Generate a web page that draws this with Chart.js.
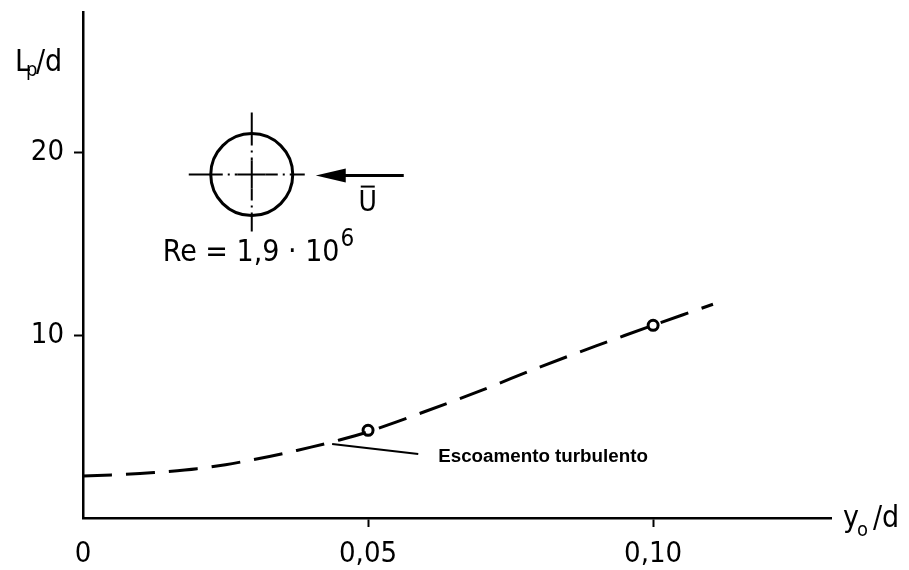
<!DOCTYPE html>
<html>
<head>
<meta charset="utf-8">
<script src="https://cdn.jsdelivr.net/npm/chart.js@4.4.1/dist/chart.umd.min.js"></script>
<style>
  html, body { margin: 0; padding: 0; background: #fff; }
  #wrap { width: 909px; height: 570px; position: relative; }
</style>
</head>
<body>
<div id="wrap"><canvas id="c" width="909" height="570"></canvas></div>
<script>
// curva tracejada
const curveX = [0, 0.005, 0.01, 0.015, 0.02, 0.025, 0.03, 0.035, 0.04, 0.045, 0.05, 0.06, 0.07, 0.08, 0.09, 0.10, 0.1105];
const curveY = [2.3, 2.36, 2.44, 2.55, 2.7, 2.92, 3.2, 3.52, 3.88, 4.27, 4.72, 5.83, 7.0, 8.25, 9.42, 10.55, 11.7];
// pontos medidos
const pointX = [0.05, 0.10];
const pointY = [4.8, 10.55];
// ticks
const xTicks = [0, 0.05, 0.10];
const xTickLabels = ["0", "0,05", "0,10"];
const yTicks = [10, 20];
const yTickLabels = ["10", "20"];

const FONT = '"Liberation Sans Narrow", "DejaVu Sans Condensed", "Liberation Sans", sans-serif';

const toXY = (xs, ys) => xs.map((x, i) => ({ x, y: ys[i] }));

// desenhos extras: títulos dos eixos, cilindro, seta e legenda
const extras = {
  id: "extras",
  afterDraw(chart) {
    const { ctx, chartArea: a } = chart;
    const sx = chart.scales.x, sy = chart.scales.y;
    ctx.save();
    ctx.fillStyle = "#000";
    ctx.strokeStyle = "#000";
    ctx.textBaseline = "alphabetic";

    // L_p/d
    ctx.font = "30px " + FONT;
    ctx.textAlign = "left";
    ctx.fillText("L", a.left - 68, 71);
    ctx.font = "20px " + FONT;
    ctx.fillText("p", a.left - 57, 76);
    ctx.font = "30px " + FONT;
    ctx.fillText("/d", a.left - 47, 71);

    // y_o/d
    ctx.font = "30px " + FONT;
    ctx.fillText("y", a.right + 12, a.bottom + 9);
    ctx.font = "20px " + FONT;
    ctx.fillText("o", a.right + 26, a.bottom + 18);
    ctx.font = "30px " + FONT;
    ctx.fillText("/d", a.right + 42, a.bottom + 9);

    // cilindro
    const cx = sx.getPixelForValue(0.0296), cy = sy.getPixelForValue(18.8);
    const r = 41;
    ctx.lineWidth = 3;
    ctx.beginPath();
    ctx.arc(cx, cy, r, 0, Math.PI * 2);
    ctx.stroke();
    ctx.lineWidth = 2;
    ctx.beginPath();
    ctx.moveTo(cx - 63, cy); ctx.lineTo(cx - r, cy);
    ctx.moveTo(cx + r, cy); ctx.lineTo(cx + 53, cy);
    ctx.moveTo(cx, cy - 62); ctx.lineTo(cx, cy - r);
    ctx.moveTo(cx, cy + r); ctx.lineTo(cx, cy + 57);
    ctx.moveTo(cx - 14, cy); ctx.lineTo(cx + 14, cy);
    ctx.moveTo(cx, cy - 14); ctx.lineTo(cx, cy + 14);
    ctx.stroke();
    ctx.setLineDash([12, 5, 2, 5]);
    ctx.beginPath();
    ctx.moveTo(cx - r, cy); ctx.lineTo(cx - 14, cy);
    ctx.moveTo(cx + 14, cy); ctx.lineTo(cx + r, cy);
    ctx.moveTo(cx, cy - r); ctx.lineTo(cx, cy - 14);
    ctx.moveTo(cx, cy + 14); ctx.lineTo(cx, cy + r);
    ctx.stroke();
    ctx.setLineDash([]);

    // seta U
    const tip = cx + 64, tail = cx + 152, ay = cy + 1;
    ctx.lineWidth = 3;
    ctx.beginPath();
    ctx.moveTo(tip + 20, ay); ctx.lineTo(tail, ay);
    ctx.stroke();
    ctx.beginPath();
    ctx.moveTo(tip, ay);
    ctx.lineTo(tip + 30, ay - 7);
    ctx.lineTo(tip + 30, ay + 7);
    ctx.closePath();
    ctx.fill();
    ctx.font = "28px " + FONT;
    ctx.textAlign = "center";
    ctx.fillText("U", cx + 116, cy + 36);
    ctx.lineWidth = 2;
    ctx.beginPath();
    ctx.moveTo(cx + 109, cy + 12); ctx.lineTo(cx + 123, cy + 12);
    ctx.stroke();

    // Re
    ctx.textAlign = "left";
    ctx.font = "30px " + FONT;
    const reTxt = "Re = 1,9 \u00b7 10";
    ctx.fillText(reTxt, cx - 89, cy + 86);
    const w = ctx.measureText(reTxt).width;
    ctx.font = "24px " + FONT;
    ctx.fillText("6", cx - 89 + w + 1, cy + 71);

    // Escoamento turbulento
    ctx.lineWidth = 2;
    ctx.beginPath();
    ctx.moveTo(sx.getPixelForValue(0.0437), sy.getPixelForValue(4.05));
    ctx.lineTo(sx.getPixelForValue(0.0588), sy.getPixelForValue(3.5));
    ctx.stroke();
    ctx.font = 'bold 18.8px "Liberation Sans", Arial, sans-serif';
    ctx.textBaseline = "middle";
    ctx.fillText("Escoamento turbulento", sx.getPixelForValue(0.0623), sy.getPixelForValue(3.34));

    ctx.restore();
  },
};

new Chart(document.getElementById("c"), {
  type: "scatter",
  data: {
    datasets: [
      {
        label: "curva",
        data: toXY(curveX, curveY),
        showLine: true,
        borderColor: "#000",
        borderWidth: 3,
        borderDash: [29, 14],
        pointRadius: 0,
        tension: 0.3,
      },
      {
        label: "pontos",
        data: toXY(pointX, pointY),
        showLine: false,
        pointRadius: 5,
        pointBorderWidth: 3,
        pointBorderColor: "#000",
        pointBackgroundColor: "#fff",
      },
    ],
  },
  options: {
    responsive: false,
    animation: false,
    devicePixelRatio: 1,
    layout: { padding: { left: 0, right: 78, top: 12, bottom: 0 } },
    plugins: { legend: { display: false }, tooltip: { enabled: false } },
    scales: {
      x: {
        type: "linear",
        min: 0,
        max: 0.1312,
        afterBuildTicks: (s) => { s.ticks = xTicks.map((v) => ({ value: v })); },
        afterFit: (s) => { s.height = 52; s.paddingLeft = 0; s.paddingRight = 0; },
        border: { display: true, color: "#000", width: 2.5 },
        grid: {
          display: true,
          drawOnChartArea: false,
          drawTicks: true,
          tickLength: 9,
          tickWidth: 2,
          tickColor: (c) => (c.tick && c.tick.value === 0 ? "rgba(0,0,0,0)" : "#000"),
        },
        ticks: {
          autoSkip: false,
          maxRotation: 0,
          padding: 10,
          color: "#000",
          font: { family: FONT, size: 29 },
          callback: (v) => xTickLabels[xTicks.indexOf(v)] ?? "",
        },
      },
      y: {
        type: "linear",
        min: 0,
        max: 27.7,
        afterBuildTicks: (s) => { s.ticks = yTicks.map((v) => ({ value: v })); },
        afterFit: (s) => { s.width = 83; s.paddingTop = 0; s.paddingBottom = 0; },
        border: { display: true, color: "#000", width: 2.5 },
        grid: {
          display: true,
          drawOnChartArea: false,
          drawTicks: true,
          tickLength: 9,
          tickWidth: 2,
          tickColor: "#000",
        },
        ticks: {
          autoSkip: false,
          padding: 10,
          color: "#000",
          font: { family: FONT, size: 29 },
          callback: (v) => yTickLabels[yTicks.indexOf(v)] ?? "",
        },
      },
    },
  },
  plugins: [extras],
});
</script>
</body>
</html>
